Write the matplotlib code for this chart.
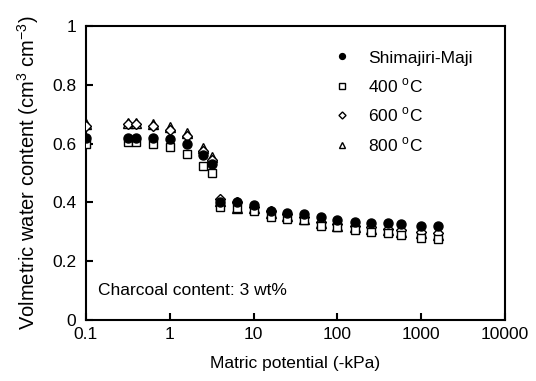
import numpy as np
import matplotlib
matplotlib.use("Agg")
import matplotlib.pyplot as plt

# --- data ---
potential = [0.1, 0.32, 0.4, 0.63, 1.0, 1.6, 2.5, 3.2, 4.0, 6.3, 10, 16, 25,
             40, 63, 100, 160, 250, 400, 570, 1000, 1600]
shimajiri = [0.62, 0.62, 0.62, 0.62, 0.615, 0.60, 0.56, 0.53, 0.40, 0.40, 0.39,
             0.37, 0.365, 0.36, 0.35, 0.34, 0.335, 0.33, 0.33, 0.325, 0.32, 0.32]
c400 = [0.60, 0.605, 0.605, 0.60, 0.59, 0.565, 0.525, 0.50, 0.385, 0.38, 0.37,
        0.35, 0.345, 0.34, 0.32, 0.315, 0.305, 0.30, 0.295, 0.29, 0.28, 0.275]
c600 = [0.66, 0.665, 0.665, 0.66, 0.645, 0.625, 0.575, 0.545, 0.41, 0.40, 0.385,
        0.37, 0.36, 0.35, 0.335, 0.325, 0.32, 0.315, 0.31, 0.305, 0.30, 0.295]
c800 = [0.665, 0.67, 0.67, 0.665, 0.655, 0.635, 0.585, 0.555, 0.405, 0.38, 0.38,
        0.365, 0.355, 0.345, 0.33, 0.32, 0.315, 0.31, 0.305, 0.30, 0.295, 0.29]

x_ticks = [0.1, 1, 10, 100, 1000, 10000]
x_tick_labels = ["0.1", "1", "10", "100", "1000", "10000"]
y_ticks = [0, 0.2, 0.4, 0.6, 0.8, 1.0]
y_tick_labels = ["0", "0.2", "0.4", "0.6", "0.8", "1"]

plt.rcParams['font.family'] = ['Liberation Sans', 'DejaVu Sans']
plt.rcParams['mathtext.fontset'] = 'custom'
plt.rcParams['mathtext.rm'] = 'Liberation Sans'
plt.rcParams['font.size'] = 12.5

fig = plt.figure(figsize=(5.36, 3.81), dpi=100)
ax = fig.add_axes([0.1604, 0.160, 0.782, 0.772])

ax.plot(potential, c800, linestyle='none', marker='^', ms=6.5, mfc='white',
        mec='black', mew=1.0, label='800 $^\\mathregular{o}$C', zorder=3)
ax.plot(potential, c600, linestyle='none', marker='D', ms=5.5, mfc='white',
        mec='black', mew=1.0, label='600 $^\\mathregular{o}$C', zorder=3)
ax.plot(potential, c400, linestyle='none', marker='s', ms=6, mfc='white',
        mec='black', mew=1.0, label='400 $^\\mathregular{o}$C', zorder=3)
ax.plot(potential, shimajiri, linestyle='none', marker='o', ms=6.5, mfc='black',
        mec='black', label='Shimajiri-Maji', zorder=4)

ax.set_xscale('log')
ax.set_xlim(0.1, 10000)
ax.set_ylim(0, 1)
ax.set_xticks(x_ticks)
ax.set_xticklabels(x_tick_labels)
ax.set_yticks(y_ticks)
ax.set_yticklabels(y_tick_labels)
ax.xaxis.set_minor_locator(matplotlib.ticker.NullLocator())
ax.tick_params(direction='in', length=5, width=1.5, pad=5)
ax.tick_params(axis='y', pad=7)

for sp in ax.spines.values():
    sp.set_linewidth(1.5)

ax.set_xlabel('Matric potential (-kPa)', labelpad=10)
ax.set_ylabel('Volmetric water content (cm$^\\mathregular{3}$ cm$^\\mathregular{-3}$)',
              fontsize=14.5, labelpad=8)

ax.text(0.029, 0.10, 'Charcoal content: 3 wt%', transform=ax.transAxes,
        va='center', ha='left')

handles, labels = ax.get_legend_handles_labels()
order = [3, 2, 1, 0]
ax.legend([handles[i] for i in order], [labels[i] for i in order],
          loc='upper right', bbox_to_anchor=(0.96, 0.97), frameon=False,
          markerscale=0.65, handlelength=1.0, handletextpad=1.0,
          labelspacing=0.62)

fig.savefig('out.png', dpi=100)
